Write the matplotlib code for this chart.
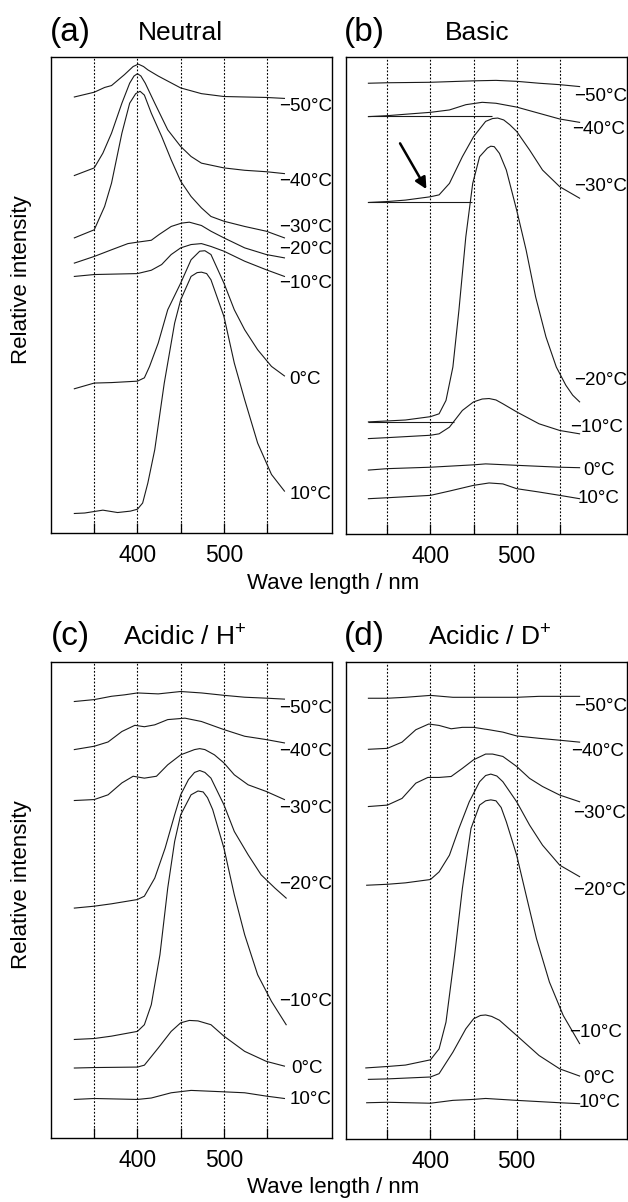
import matplotlib
matplotlib.use("Agg")
import matplotlib.pyplot as plt

plt.rcParams['font.family'] = ['Liberation Sans', 'DejaVu Sans']
plt.rcParams['mathtext.fontset'] = 'custom'
plt.rcParams['mathtext.rm'] = 'Liberation Sans'
plt.rcParams['mathtext.default'] = 'regular'

temps = ["\u221250\u00b0C", "\u221240\u00b0C", "\u221230\u00b0C", "\u221220\u00b0C",
         "\u221210\u00b0C", "0\u00b0C", "10\u00b0C"]
tick_values = [350, 400, 450, 500, 550]
tick_labels = ["", "400", "", "500", ""]

# ---------------- (a) Neutral ----------------
a_x = [
    [327, 350, 362, 370, 385, 395, 401, 407, 412, 424, 450, 474, 500, 524, 549, 570],
    [327, 350, 360, 370, 382, 391, 396, 400, 404, 409, 420, 435, 450, 462, 474, 500, 524, 549, 570],
    [327, 350, 362, 370, 382, 391, 398, 403, 408, 416, 428, 439, 450, 462, 474, 485, 500, 524, 549, 570],
    [327, 350, 370, 389, 400, 416, 425, 439, 451, 460, 474, 485, 500, 524, 549, 570],
    [327, 350, 400, 416, 428, 439, 450, 462, 474, 485, 500, 524, 549, 570],
    [327, 350, 370, 400, 408, 414, 424, 435, 450, 462, 472, 478, 485, 493, 500, 512, 524, 539, 555, 570],
    [327, 339, 360, 377, 392, 400, 406, 412, 420, 431, 443, 450, 462, 469, 474, 480, 485, 500, 512, 524, 539, 555, 570],
]
a_y = [
    [91.6, 92.6, 93.6, 94.0, 96.3, 98.0, 98.5, 98.0, 97.3, 96.0, 93.5, 92.3, 91.7, 91.6, 91.5, 91.3],
    [75.1, 76.7, 79.8, 84.0, 90.3, 94.5, 96.0, 96.5, 96.0, 94.5, 90.3, 84.7, 81.2, 79.1, 77.7, 76.7, 76.2, 75.9, 75.5],
    [62.0, 63.7, 68.6, 73.5, 84.0, 90.3, 92.3, 92.8, 92.0, 88.2, 83.3, 78.4, 73.9, 70.7, 68.3, 66.5, 65.5, 64.4, 63.4, 62.0],
    [56.7, 58.1, 59.5, 60.8, 61.1, 61.5, 62.7, 64.4, 65.1, 65.3, 64.6, 63.4, 62.0, 59.9, 58.5, 57.8],
    [53.9, 54.3, 54.5, 55.2, 56.4, 58.5, 59.9, 60.6, 60.8, 60.2, 59.2, 57.1, 55.3, 53.9],
    [30.3, 31.5, 31.6, 31.9, 32.6, 35.0, 39.9, 46.9, 52.5, 57.4, 59.2, 59.3, 58.5, 55.3, 52.5, 46.9, 42.7, 38.5, 35.0, 33.0],
    [4.1, 4.2, 4.8, 4.3, 4.6, 5.0, 6.3, 10.5, 17.5, 31.5, 44.1, 49.0, 53.9, 54.7, 54.8, 54.5, 53.2, 45.5, 35.7, 28.0, 18.9, 12.3, 8.8],
]
a_label_x = [564, 564, 564, 564, 564, 576, 576]
a_label_y = [89.6, 73.9, 64.1, 59.5, 52.5, 32.2, 8.1]

# ---------------- (b) Basic ----------------
b_x = [
    [328, 350, 400, 450, 476, 500, 526, 550, 573],
    [328, 350, 371, 400, 422, 441, 460, 476, 500, 526, 550, 573],
    [328, 350, 371, 400, 410, 422, 437, 450, 464, 472, 478, 485, 492, 500, 515, 530, 550, 573],
    [328, 350, 371, 400, 410, 418, 426, 433, 441, 449, 457, 466, 470, 474, 480, 488, 500, 511, 522, 534, 546, 557, 565, 573],
    [328, 350, 400, 410, 422, 437, 450, 460, 468, 476, 484, 500, 526, 550, 573],
    [328, 350, 400, 450, 464, 500, 550, 573],
    [328, 350, 400, 422, 450, 468, 484, 500, 526, 550, 573],
]
b_y = [
    [94.5, 94.6, 94.7, 95.0, 95.1, 94.9, 94.5, 94.2, 93.8],
    [87.5, 87.7, 88.0, 88.4, 88.9, 90.0, 90.5, 90.3, 89.5, 88.2, 87.0, 86.3],
    [69.5, 69.7, 70.0, 70.7, 71.1, 73.5, 79.1, 83.3, 86.5, 87.1, 87.2, 86.8, 85.8, 84.4, 80.5, 76.3, 72.8, 70.4],
    [23.5, 23.7, 23.9, 24.6, 25.2, 28.0, 35.0, 46.9, 62.3, 73.5, 79.1, 80.9, 81.3, 81.2, 79.8, 76.3, 67.9, 59.5, 49.7, 41.3, 35.0, 31.2, 29.1, 27.7],
    [20.0, 20.2, 20.7, 21.0, 22.4, 25.9, 27.7, 28.3, 28.4, 28.1, 27.3, 25.6, 23.1, 21.7, 21.0],
    [13.4, 13.7, 14.0, 14.5, 14.7, 14.4, 14.0, 13.9],
    [7.4, 7.6, 8.1, 9.0, 10.2, 10.7, 10.5, 9.5, 8.8, 8.1, 7.4],
]
b_label_x = [567, 564, 567, 567, 562, 577, 571]
b_label_y = [91.7, 84.7, 72.8, 32.2, 22.4, 13.4, 7.4]
# baselines drawn in (b) for -40, -30, -20 °C
b_base_start = [328, 328, 328]
b_base_end = [471, 448, 427.5]
b_base_level = [87.7, 69.5, 23.5]
b_arrow_from = (364.7, 81.9)
b_arrow_to = (395.3, 72.3)

# ---------------- (c) Acidic / H+ ----------------
c_x = [
    [327, 350, 370, 385, 400, 424, 450, 474, 500, 524, 549, 570],
    [327, 350, 366, 382, 397, 408, 420, 435, 455, 474, 500, 524, 549, 570],
    [327, 350, 366, 382, 395, 408, 422, 435, 450, 466, 472, 478, 489, 500, 512, 528, 549, 570],
    [327, 350, 370, 400, 408, 420, 432, 443, 450, 459, 466, 472, 478, 485, 500, 512, 528, 543, 559, 572],
    [327, 350, 370, 400, 408, 416, 426, 435, 443, 450, 462, 470, 476, 481, 487, 500, 512, 524, 539, 555, 572],
    [327, 350, 400, 408, 424, 439, 450, 460, 470, 485, 500, 524, 549, 570],
    [327, 350, 400, 416, 439, 462, 500, 524, 549, 570],
]
c_y = [
    [91.7, 92.1, 92.8, 93.1, 93.5, 93.3, 93.8, 93.5, 93.0, 92.6, 92.4, 92.2],
    [81.6, 82.3, 83.2, 85.4, 86.7, 86.4, 86.8, 87.9, 88.2, 87.5, 85.8, 84.4, 83.7, 83.0],
    [70.9, 71.1, 72.1, 74.6, 76.0, 75.6, 76.0, 78.4, 80.5, 81.6, 81.8, 81.6, 80.5, 78.8, 76.3, 74.2, 72.8, 71.1],
    [48.3, 48.7, 49.2, 50.1, 50.8, 54.6, 60.9, 67.9, 72.1, 75.3, 76.8, 77.2, 76.8, 75.6, 70.0, 64.4, 59.5, 55.3, 52.5, 50.4],
    [20.7, 20.9, 21.4, 22.4, 23.8, 28.0, 38.5, 52.5, 62.3, 67.9, 72.1, 72.9, 72.7, 71.5, 69.0, 60.9, 51.1, 42.7, 34.3, 28.7, 23.8],
    [14.7, 14.8, 14.9, 15.3, 18.9, 22.4, 24.2, 24.7, 24.6, 23.8, 21.4, 18.2, 16.1, 15.1],
    [8.1, 8.3, 8.1, 8.4, 9.5, 10.0, 9.7, 9.5, 8.8, 8.3],
]
c_label_x = [564, 564, 564, 564, 564, 578, 576]
c_label_y = [90.3, 81.2, 69.3, 53.2, 28.7, 14.7, 8.1]

# ---------------- (d) Acidic / D+ ----------------
d_x = [
    [328, 350, 371, 400, 426, 450, 476, 500, 526, 550, 573],
    [328, 350, 367, 383, 398, 410, 424, 437, 450, 468, 484, 500, 526, 550, 573],
    [328, 350, 367, 383, 397, 410, 424, 437, 450, 464, 472, 484, 500, 515, 530, 550, 573],
    [326, 350, 371, 400, 410, 422, 433, 445, 457, 464, 470, 477, 484, 500, 515, 530, 550, 573],
    [325, 350, 371, 400, 410, 418, 428, 437, 447, 457, 464, 470, 476, 482, 488, 500, 511, 523, 538, 554, 573],
    [328, 350, 400, 410, 426, 441, 450, 458, 464, 471, 480, 500, 526, 550, 573],
    [326, 350, 400, 426, 450, 464, 500, 550, 573],
]
d_y = [
    [92.4, 92.4, 92.6, 93.0, 92.6, 92.6, 92.6, 92.6, 92.8, 92.8, 92.8],
    [81.7, 81.9, 83.2, 85.8, 87.0, 86.7, 86.0, 86.3, 86.3, 85.8, 85.3, 84.5, 84.0, 83.6, 83.2],
    [69.7, 70.0, 71.4, 74.6, 75.8, 75.8, 76.0, 77.7, 79.5, 80.7, 80.7, 80.2, 78.1, 75.6, 73.9, 72.1, 70.7],
    [53.2, 53.4, 53.7, 54.4, 56.0, 59.5, 65.1, 70.7, 74.9, 76.2, 76.5, 76.1, 74.9, 70.7, 65.8, 61.6, 57.4, 55.0],
    [14.9, 15.2, 15.5, 16.6, 18.9, 24.5, 38.5, 52.5, 65.1, 70.0, 70.9, 71.1, 70.9, 69.5, 66.5, 59.5, 51.1, 42.0, 32.9, 25.9, 20.0],
    [12.5, 12.6, 13.0, 13.7, 18.2, 23.1, 25.2, 25.9, 26.0, 25.7, 24.9, 21.7, 17.5, 14.7, 13.2],
    [7.6, 7.7, 7.5, 8.1, 8.3, 8.5, 8.1, 7.6, 7.4],
]
d_label_x = [567, 563, 565, 565, 561, 577, 572]
d_label_y = [90.7, 81.2, 68.3, 52.2, 22.4, 12.6, 7.6]

W, H = 628, 1202
fig = plt.figure(figsize=(W / 100, H / 100), dpi=100)


def rect(l, r, t, b):
    return [l / W, 1 - b / H, (r - l) / W, (b - t) / H]


panels = [
    (rect(51, 332, 57, 533), a_x, a_y, a_label_x, a_label_y, (300, 625)),
    (rect(346, 627, 57, 534), b_x, b_y, b_label_x, b_label_y, (302, 628)),
    (rect(51, 332, 662, 1138), c_x, c_y, c_label_x, c_label_y, (300, 625)),
    (rect(346, 627, 662, 1139), d_x, d_y, d_label_x, d_label_y, (302, 628)),
]

axes = []
for pos, xs, ys, lx, ly, xlim in panels:
    ax = fig.add_axes(pos)
    for xv, yv in zip(xs, ys):
        ax.plot(xv, yv, color='#1a1a1a', lw=0.8)
    for t, x0, y0 in zip(temps, lx, ly):
        ax.text(x0, y0, t, fontsize=13.5, ha='left', va='center')
    for tv in tick_values:
        ax.axvline(tv, color='black', lw=0.8, ls=(0, (1.6, 1.6)), zorder=0)
    ax.set_xlim(*xlim)
    ax.set_ylim(0, 100)
    ax.set_yticks([])
    ax.set_xticks(tick_values)
    ax.set_xticklabels(tick_labels, fontsize=16.5)
    ax.tick_params(axis='x', direction='in', length=7, width=0.9, pad=8, top=False)
    for sp in ax.spines.values():
        sp.set_linewidth(1.0)
    axes.append(ax)

# baselines and arrow in (b)
axb = axes[1]
axb.hlines(b_base_level, b_base_start, b_base_end, color='#1a1a1a', lw=0.8)
axb.annotate('', xy=b_arrow_to, xytext=b_arrow_from,
             arrowprops=dict(arrowstyle='-|>', color='black', lw=1.8,
                             mutation_scale=17, shrinkA=0, shrinkB=0))

# panel titles
fig.text(70 / W, 1 - 32 / H, "(a)", fontsize=24, ha='center', va='center')
fig.text(180 / W, 1 - 33 / H, "Neutral", fontsize=19, ha='center', va='center')
fig.text(364 / W, 1 - 32 / H, "(b)", fontsize=24, ha='center', va='center')
fig.text(477 / W, 1 - 33 / H, "Basic", fontsize=19, ha='center', va='center')
fig.text(70 / W, 1 - 637 / H, "(c)", fontsize=24, ha='center', va='center')
fig.text(185 / W, 1 - 638 / H, "Acidic / H$^{+}$", fontsize=19, ha='center', va='center')
fig.text(364 / W, 1 - 637 / H, "(d)", fontsize=24, ha='center', va='center')
fig.text(490 / W, 1 - 638 / H, "Acidic / D$^{+}$", fontsize=19, ha='center', va='center')

# axis labels
fig.text(333 / W, 1 - 583 / H, "Wave length / nm", fontsize=16, ha='center', va='center')
fig.text(333 / W, 1 - 1188 / H, "Wave length / nm", fontsize=16, ha='center', va='center')
fig.text(22 / W, 1 - 280 / H, "Relative intensity", fontsize=16, ha='center', va='center', rotation=90)
fig.text(22 / W, 1 - 885 / H, "Relative intensity", fontsize=16, ha='center', va='center', rotation=90)

fig.savefig("out.png", dpi=100)
